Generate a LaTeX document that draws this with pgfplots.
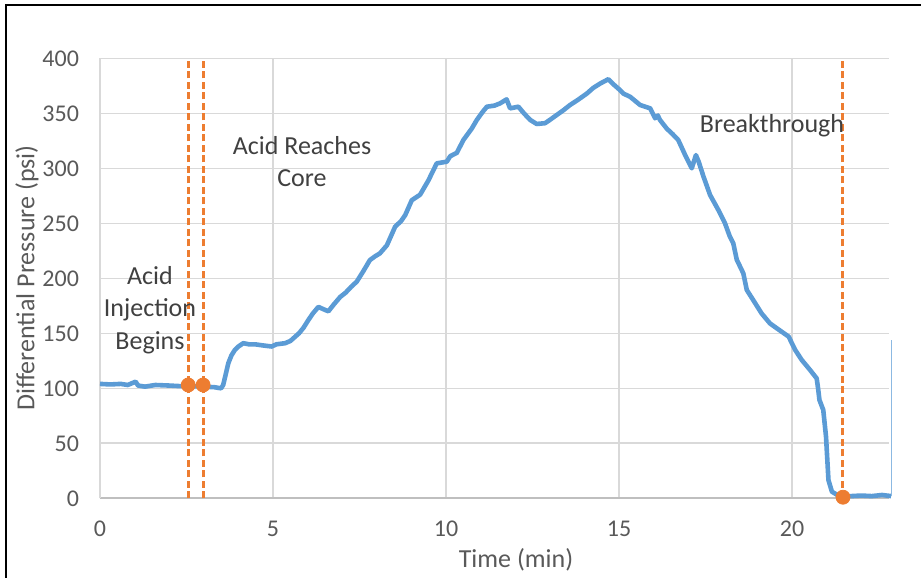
\documentclass[border=0pt]{standalone}
\usepackage{fontspec}
\setmainfont{Carlito}
\usepackage{pgfplots}
\pgfplotsset{compat=1.18}

\definecolor{exblue}{HTML}{5B9BD5}
\definecolor{exorange}{HTML}{ED7D31}
\definecolor{gridgray}{HTML}{D9D9D9}
\definecolor{axisgray}{HTML}{BFBFBF}
\definecolor{ticktext}{HTML}{595959}
\definecolor{labeltext}{HTML}{404040}

\begin{document}
\begin{tikzpicture}[x=1pt,y=1pt]
\useasboundingbox (0,0) rectangle (460.5,289);
% chart frame (left and top edges)
\draw[black, line width=0.9pt] (2.85,0) -- (2.85,286.3) -- (460.5,286.3);

\begin{axis}[
  at={(50pt,39.85pt)}, anchor=south west,
  scale only axis, width=394.5pt, height=220pt,
  xmin=0, xmax=22.8, ymin=0, ymax=400,
  xtick={0,5,10,15,20}, ytick={0,50,...,400},
  clip=false,
  axis x line*=bottom, axis y line*=left,
  x axis line style={draw=axisgray, line width=1pt, -},
  y axis line style={draw=gridgray, line width=0.8pt, -},
  major tick length=0pt,
  grid=major,
  major grid style={draw=gridgray, line width=0.8pt},
  /pgf/number format/assume math mode=true,
  tick label style={font=\fontsize{12}{14}\selectfont, text=ticktext},
  xticklabel style={yshift=-8pt},
  yticklabel style={xshift=-7pt},
]
% differential pressure record
\addplot[exblue, line width=2.3pt, line join=round] coordinates {
(0.00,104) (0.30,103.5) (0.60,104) (0.80,103) (1.03,106) (1.10,102.5)
(1.30,101.5) (1.60,103) (2.00,102.5) (2.30,102) (2.60,102) (3.00,101.5)
(3.30,101) (3.50,100) (3.56,103) (3.65,115) (3.71,123) (3.80,130)
(3.90,135) (4.00,138) (4.14,141) (4.30,140) (4.48,140) (4.70,139)
(4.96,138) (5.10,140) (5.35,141) (5.50,143) (5.59,145.5) (5.75,150)
(5.88,155) (6.02,162) (6.15,168) (6.31,174) (6.45,172) (6.60,170)
(6.75,176) (6.94,183) (7.10,187) (7.25,192) (7.42,197) (7.60,206)
(7.80,216.6) (7.95,220) (8.09,222.7) (8.29,230) (8.53,247) (8.70,252)
(8.82,257.5) (9.01,271) (9.25,276) (9.49,289) (9.73,304.5) (10.02,306)
(10.12,311) (10.31,314) (10.50,325.7) (10.74,336) (10.89,344) (11.05,351)
(11.18,356) (11.40,357) (11.56,359) (11.75,362.7) (11.85,354.5) (12.09,356)
(12.25,350) (12.43,344) (12.62,340.3) (12.86,341) (13.00,344) (13.20,348.5)
(13.40,353) (13.58,357.5) (13.80,362) (14.07,368) (14.25,373) (14.45,377)
(14.69,381) (14.85,376) (15.03,371) (15.12,368) (15.32,365) (15.61,357.5)
(15.90,354.5) (16.04,345.5) (16.12,348) (16.18,344) (16.38,336) (16.55,331)
(16.71,325.7) (16.91,312) (17.10,300) (17.22,312) (17.30,306) (17.44,292.4)
(17.63,275.7) (17.87,262) (18.06,250) (18.20,238) (18.30,231.8) (18.40,217)
(18.59,204.5) (18.69,189.4) (18.88,180) (19.12,168) (19.36,159) (19.56,154.5)
(19.90,147) (20.09,134.8) (20.28,125.7) (20.52,116.6) (20.71,109) (20.75,100)
(20.79,89.4) (20.90,80.3) (20.98,56) (21.05,16.6) (21.15,6) (21.39,1.5)
(21.70,2) (22.00,2.5) (22.30,2) (22.60,3) (22.86,2)
};
\addplot[exblue!70, line width=0.4pt] coordinates {(22.87,2) (22.87,144)};
% event markers
\addplot[exorange, line width=1.5pt, dash pattern=on 3.5pt off 1.75pt] coordinates {(2.55,0) (2.55,400)};
\addplot[exorange, line width=1.5pt, dash pattern=on 3.5pt off 1.75pt] coordinates {(2.98,0) (2.98,400)};
\addplot[exorange, line width=1.5pt, dash pattern=on 3.5pt off 1.75pt] coordinates {(21.47,0) (21.47,398)};
\addplot[only marks, mark=*, mark size=3.5pt, exorange] coordinates {(2.55,103) (2.98,103) (21.47,1)};
\end{axis}

% annotations
\node[text=labeltext, align=center, font=\fontsize{13}{16.25}\selectfont] at (75,134) {Acid\\Injection\\Begins};
\node[text=labeltext, align=center, font=\fontsize{13}{16}\selectfont] at (151,208.25) {Acid Reaches\\Core};
\node[text=labeltext, font=\fontsize{13}{16}\selectfont] at (386,226.25) {Breakthrough};
% axis titles
\node[text=ticktext, font=\fontsize{13}{16}\selectfont] at (258,9) {Time (min)};
\node[text=ticktext, rotate=90, font=\fontsize{13}{16}\selectfont] at (13.5,150) {Differential Pressure (psi)};
\end{tikzpicture}
\end{document}
